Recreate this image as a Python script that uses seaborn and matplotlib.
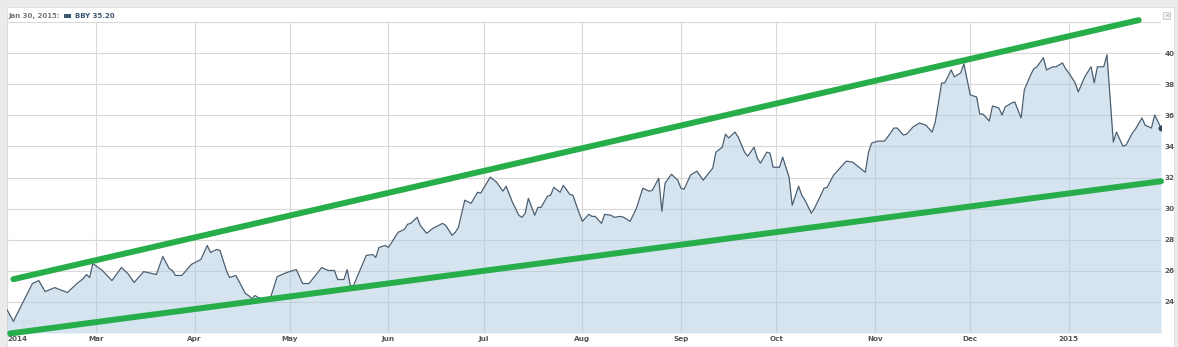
import matplotlib
matplotlib.use("Agg")
import matplotlib.pyplot as plt
from matplotlib.patches import Rectangle
import pandas as pd
import seaborn as sns

# ---------------- data ----------------
dates = [
    "2014-02-01", "2014-02-03", "2014-02-09", "2014-02-11", "2014-02-13", "2014-02-16", "2014-02-20",
    "2014-02-23", "2014-02-25", "2014-02-26", "2014-02-27", "2014-02-28",
    "2014-03-03", "2014-03-06", "2014-03-09", "2014-03-11", "2014-03-13", "2014-03-16", "2014-03-20",
    "2014-03-22", "2014-03-24", "2014-03-25", "2014-03-26", "2014-03-28", "2014-03-31",
    "2014-04-03", "2014-04-05", "2014-04-06", "2014-04-08", "2014-04-09", "2014-04-11", "2014-04-12",
    "2014-04-14", "2014-04-17", "2014-04-18", "2014-04-19", "2014-04-20", "2014-04-21", "2014-04-22",
    "2014-04-24", "2014-04-25", "2014-04-27", "2014-04-30",
    "2014-05-03", "2014-05-05", "2014-05-07", "2014-05-11", "2014-05-13", "2014-05-15", "2014-05-16",
    "2014-05-18", "2014-05-19", "2014-05-20", "2014-05-21", "2014-05-25", "2014-05-27", "2014-05-28",
    "2014-05-29", "2014-05-31",
    "2014-06-01", "2014-06-04", "2014-06-06", "2014-06-07", "2014-06-08", "2014-06-10", "2014-06-11",
    "2014-06-13", "2014-06-15", "2014-06-18", "2014-06-19", "2014-06-21", "2014-06-22", "2014-06-23",
    "2014-06-25", "2014-06-27", "2014-06-29", "2014-06-30",
    "2014-07-03", "2014-07-05", "2014-07-07", "2014-07-08", "2014-07-10", "2014-07-12", "2014-07-13",
    "2014-07-14", "2014-07-15", "2014-07-17", "2014-07-18", "2014-07-19", "2014-07-21", "2014-07-22",
    "2014-07-23", "2014-07-25", "2014-07-26", "2014-07-28", "2014-07-29", "2014-07-31",
    "2014-08-01", "2014-08-03", "2014-08-04", "2014-08-05", "2014-08-07", "2014-08-08", "2014-08-10",
    "2014-08-11", "2014-08-13", "2014-08-14", "2014-08-16", "2014-08-18", "2014-08-20", "2014-08-22",
    "2014-08-23", "2014-08-25", "2014-08-26", "2014-08-27", "2014-08-29", "2014-08-31",
    "2014-09-01", "2014-09-02", "2014-09-04", "2014-09-06", "2014-09-08", "2014-09-10", "2014-09-11",
    "2014-09-12", "2014-09-14", "2014-09-15", "2014-09-16", "2014-09-18", "2014-09-19", "2014-09-21",
    "2014-09-22", "2014-09-24", "2014-09-25", "2014-09-26", "2014-09-28", "2014-09-29", "2014-09-30",
    "2014-10-02", "2014-10-03", "2014-10-05", "2014-10-06", "2014-10-08", "2014-10-09", "2014-10-10",
    "2014-10-12", "2014-10-13", "2014-10-15", "2014-10-16", "2014-10-17", "2014-10-19", "2014-10-21",
    "2014-10-23", "2014-10-25", "2014-10-27", "2014-10-29", "2014-10-30", "2014-10-31",
    "2014-11-02", "2014-11-04", "2014-11-05", "2014-11-07", "2014-11-08", "2014-11-10", "2014-11-11",
    "2014-11-13", "2014-11-15", "2014-11-17", "2014-11-19", "2014-11-20", "2014-11-22", "2014-11-23",
    "2014-11-25", "2014-11-26", "2014-11-28", "2014-11-29",
    "2014-12-01", "2014-12-03", "2014-12-04", "2014-12-05", "2014-12-07", "2014-12-08", "2014-12-10",
    "2014-12-11", "2014-12-12", "2014-12-14", "2014-12-15", "2014-12-17", "2014-12-18", "2014-12-20",
    "2014-12-21", "2014-12-22", "2014-12-24", "2014-12-25", "2014-12-27", "2014-12-28", "2014-12-30",
    "2014-12-31",
    "2015-01-01", "2015-01-03", "2015-01-04", "2015-01-06", "2015-01-08", "2015-01-09", "2015-01-10",
    "2015-01-12", "2015-01-13", "2015-01-15", "2015-01-16", "2015-01-18", "2015-01-19", "2015-01-21",
    "2015-01-22", "2015-01-24", "2015-01-25", "2015-01-27", "2015-01-28", "2015-01-30",
]
close = [
    23.50, 22.75, 25.18, 25.37, 24.66, 24.92, 24.60,
    25.18, 25.50, 25.76, 25.57, 26.47,
    26.02, 25.37, 26.21, 25.83, 25.25, 25.95, 25.76,
    26.92, 26.15, 26.02, 25.70, 25.70, 26.41,
    26.73, 27.63, 27.18, 27.37, 27.31, 26.02, 25.57,
    25.70, 24.54, 24.41, 24.21, 24.41, 24.28, 24.21,
    24.28, 24.34, 25.63, 25.89,
    26.08, 25.18, 25.18, 26.21, 26.02, 26.02, 25.44,
    25.44, 26.08, 25.05, 25.05, 26.99, 27.05, 26.86,
    27.50, 27.63,
    27.50, 28.47, 28.66, 28.99, 29.05, 29.44, 28.92,
    28.41, 28.73, 29.05, 28.92, 28.28, 28.47, 28.80,
    30.54, 30.34, 31.05, 30.99,
    32.02, 31.70, 31.12, 31.44, 30.41, 29.57, 29.44,
    29.70, 30.66, 29.57, 30.08, 30.08, 30.79, 30.86,
    31.37, 31.05, 31.50, 30.92, 30.86, 29.70,
    29.18, 29.63, 29.50, 29.50, 29.05, 29.63, 29.57,
    29.44, 29.50, 29.44, 29.18, 30.02, 31.31, 31.12,
    31.18, 31.95, 29.83, 31.63, 32.21, 31.83,
    31.31, 31.25, 32.15, 32.41, 31.83, 32.34, 32.60,
    33.63, 33.95, 34.79, 34.54, 34.92, 34.60, 33.63,
    33.37, 33.95, 33.25, 32.92, 33.63, 33.57, 32.66,
    32.66, 33.31, 32.02, 30.21, 31.44, 30.86, 30.54,
    29.70, 30.02, 30.86, 31.31, 31.37, 32.15, 32.60,
    33.05, 32.99, 32.66, 32.34, 33.63, 34.21,
    34.34, 34.34, 34.60, 35.18, 35.18, 34.73, 34.79,
    35.25, 35.50, 35.37, 34.92, 35.57, 38.08, 38.08,
    38.92, 38.47, 38.73, 39.31,
    37.31, 37.18, 36.08, 36.08, 35.63, 36.60, 36.47,
    36.02, 36.54, 36.79, 36.86, 35.83, 37.63, 38.60,
    38.99, 39.12, 39.70, 38.92, 39.12, 39.12, 39.37,
    38.99,
    38.73, 38.08, 37.50, 38.47, 39.12, 38.08, 39.12,
    39.12, 39.89, 34.28, 34.92, 34.02, 34.08, 34.86,
    35.12, 35.83, 35.37, 35.18, 36.02, 35.20,
]

# hand-drawn trend channel (endpoints)
upper_dates = ["2014-02-03", "2015-01-23"]
upper_vals = [25.46, 42.12]
lower_dates = ["2014-02-02", "2015-01-30"]
lower_vals = [21.97, 31.76]

x_labels = ["2014", "Mar", "Apr", "May", "Jun", "Jul", "Aug", "Sep", "Oct", "Nov", "Dec", "2015"]
x_tick_dates = ["2014-02-01", "2014-03-01", "2014-04-01", "2014-05-01", "2014-06-01", "2014-07-01",
                "2014-08-01", "2014-09-01", "2014-10-01", "2014-11-01", "2014-12-01", "2015-01-01"]
y_ticks = [22, 24, 26, 28, 30, 32, 34, 36, 38, 40, 42]
header_date = "Jan 30, 2015:"
header_series = "BBY 35.20"

# ---------------- styling ----------------
sns.set_theme(style="white")
plt.rcParams["font.family"] = ["DejaVu Sans"]

W, H = 1178, 347
fig = plt.figure(figsize=(W / 100, H / 100), dpi=100, facecolor="#ebebeb")

# white panel (behind the axes)
panel = Rectangle((7 / W, 0), (1174 - 7) / W, (H - 7) / H, transform=fig.transFigure,
                  facecolor="white", edgecolor="#dddddd", linewidth=0.6, zorder=-5)
fig.patches.append(panel)

left, right, top, bottom = 7, 1161, 22, 333
ax = fig.add_axes([left / W, (H - bottom) / H, (right - left) / W, (bottom - top) / H], zorder=1)
ax.set_facecolor("none")
ax.patch.set_alpha(0)

df = pd.DataFrame({"date": pd.to_datetime(dates), "close": close})
x0 = pd.Timestamp("2014-02-01")
x1 = pd.Timestamp("2015-01-30")

# grid
ax.grid(True, color="#d8d8d8", linewidth=0.8, zorder=0)
ax.set_axisbelow(True)

ax.fill_between(df["date"], df["close"], 22, color="#adcbe0", alpha=0.5, linewidth=0, zorder=1)
sns.lineplot(data=df, x="date", y="close", ax=ax, color="#4b5f72", linewidth=0.9, zorder=3)
ax.plot(df["date"].iloc[-1], df["close"].iloc[-1], "o", color="#2f4458", markersize=3.2, zorder=4)

green = "#27ad4a"
ax.plot(pd.to_datetime(upper_dates), upper_vals, color=green, linewidth=4.3,
        solid_capstyle="round", zorder=5, clip_on=False)
ax.plot(pd.to_datetime(lower_dates), lower_vals, color=green, linewidth=4.3,
        solid_capstyle="round", zorder=5, clip_on=False)

ax.set_xlim(x0, x1)
ax.set_ylim(22, 42)
ax.set_xlabel("")
ax.set_ylabel("")
for s in ax.spines.values():
    s.set_visible(False)

ax.set_xticks(pd.to_datetime(x_tick_dates))
ax.set_xticklabels(x_labels)
ax.tick_params(axis="x", length=0, pad=2.5, labelsize=5.2, labelcolor="#555555")
for lab in ax.get_xticklabels():
    lab.set_fontweight("bold")
ax.get_xticklabels()[0].set_horizontalalignment("left")

ax.yaxis.tick_right()
ax.set_yticks(y_ticks)
ax.set_yticklabels(["" if (v == 22 or v == 42) else str(v) for v in y_ticks])
ax.tick_params(axis="y", length=0, pad=2.5, labelsize=5.2, labelcolor="#555555")
for lab in ax.get_yticklabels():
    lab.set_fontweight("bold")

# header
fig.text(8 / W, 1 - 16 / H, header_date, fontsize=5.0, fontweight="bold", color="#777777",
         va="center", ha="left")
fig.patches.append(Rectangle((64 / W, 1 - 17.5 / H), 7 / W, 3 / H, transform=fig.transFigure,
                             facecolor="#3b5670", edgecolor="none", zorder=2))
fig.text(75 / W, 1 - 16 / H, header_series, fontsize=5.0, fontweight="bold", color="#3b5670",
         va="center", ha="left")

# close icon top-right
fig.patches.append(Rectangle((1163 / W, 1 - 19 / H), 7 / W, 7 / H, transform=fig.transFigure,
                             facecolor="#f2f2f2", edgecolor="#bbbbbb", linewidth=0.5, zorder=2))
fig.text(1166.5 / W, 1 - 15.5 / H, "×", fontsize=4.5, color="#999999", ha="center", va="center")

# faint watermark
ax.text(0.004, 0.035, "\u00a9 2014", transform=ax.transAxes, fontsize=4.5, color="#c6d6e2",
        ha="left", va="center", zorder=2)

fig.savefig("out.png", dpi=100, facecolor=fig.get_facecolor())
